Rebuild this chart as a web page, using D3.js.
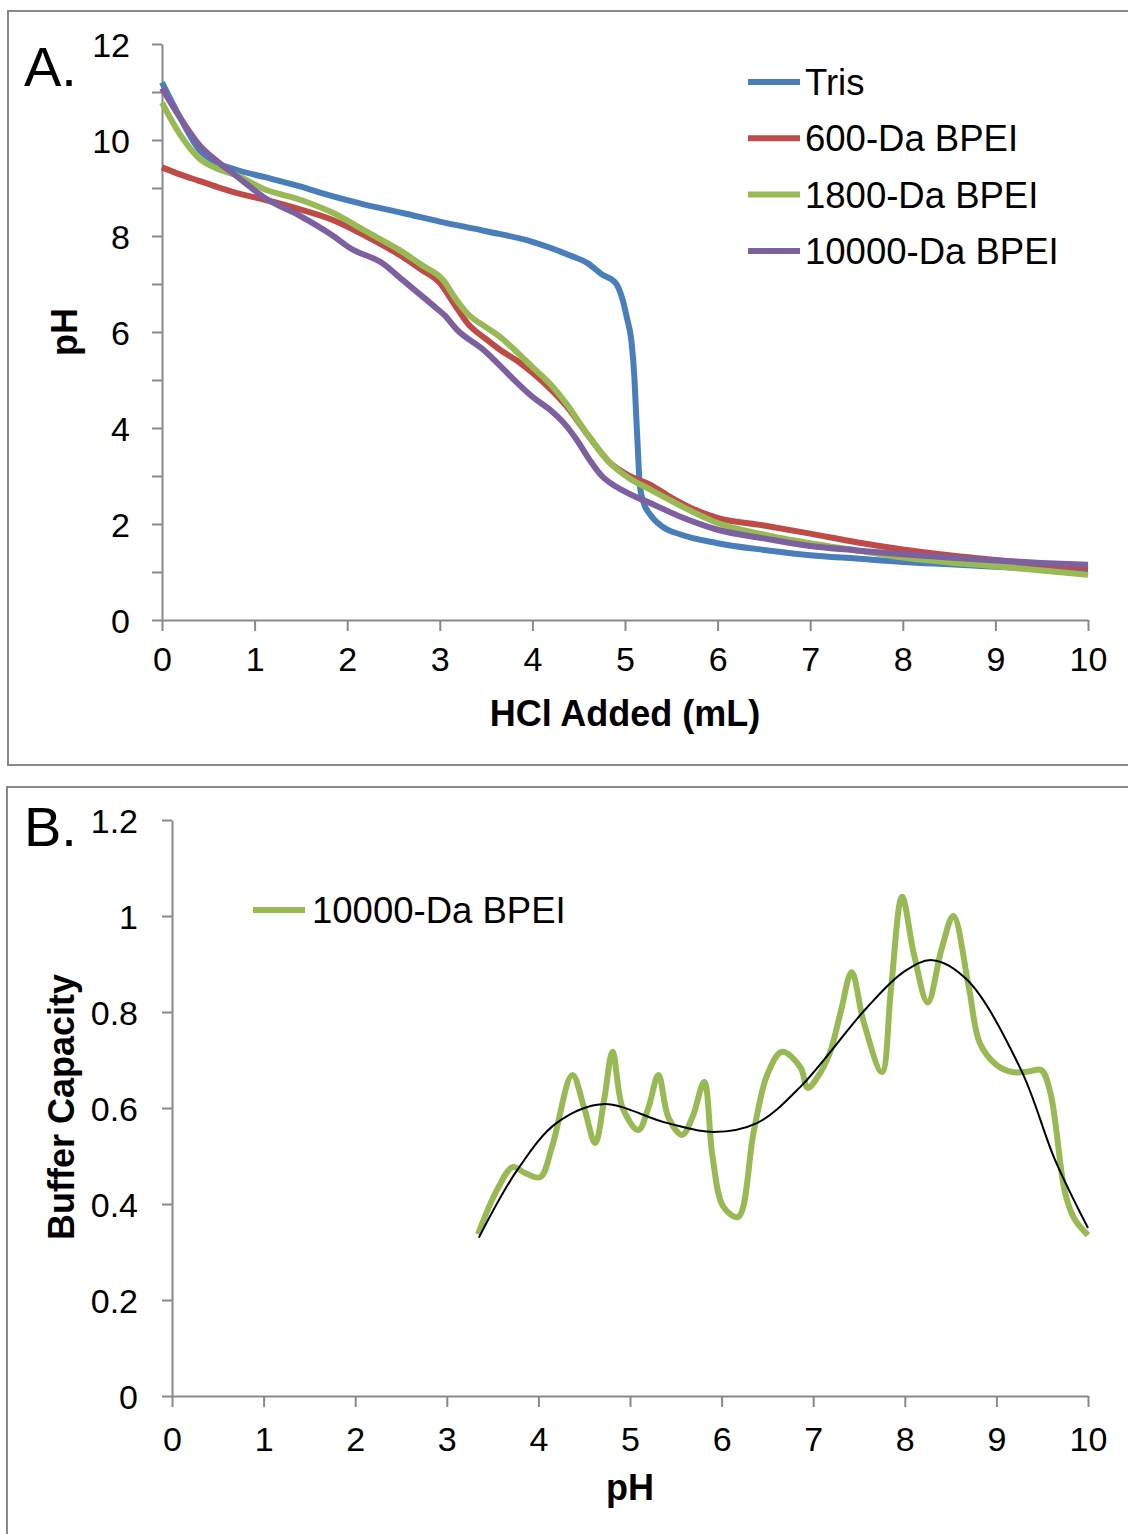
<!DOCTYPE html>
<html>
<head>
<meta charset="utf-8">
<script src="https://cdn.jsdelivr.net/npm/d3@7/dist/d3.min.js"></script>
<style>
body { margin: 0; background: #fff; overflow: hidden; }
text { font-family: "Liberation Sans", Arial, sans-serif; fill: #000; }
.tick text { font-size: 34px; }
.tick line, .domain { stroke: #898989; stroke-width: 2px; }
.axis-title { font-size: 36px; font-weight: bold; }
.legend text { font-size: 36.5px; }
.panel-label { font-size: 56px; }
</style>
</head>
<body>
<svg width="1128" height="1534"></svg>
<script>
// panel A: pH vs HCl added (mL)
const tris = [[0,11.2],[0.2,10.45],[0.4,9.8],[0.6,9.52],[0.8,9.38],[1.1,9.23],[1.5,9.03],[1.8,8.85],[2.2,8.65],[2.6,8.48],[3,8.3],[3.5,8.1],[4,7.88],[4.2,7.75],[4.4,7.6],[4.6,7.43],[4.75,7.2],[4.9,7.02],[4.97,6.7],[5.02,6.3],[5.07,5.8],[5.1,5.1],[5.12,4.3],[5.14,3.5],[5.16,2.8],[5.2,2.45],[5.27,2.2],[5.4,1.95],[5.6,1.78],[6,1.6],[6.5,1.46],[7,1.35],[7.5,1.28],[8,1.21],[8.5,1.16],[9,1.11],[9.5,1.06],[10,1.02]];
const bpei600 = [[0,9.43],[0.2,9.28],[0.4,9.15],[0.6,9.02],[0.8,8.9],[1.1,8.76],[1.5,8.55],[1.85,8.33],[2.2,8.0],[2.57,7.6],[2.8,7.3],[3.0,7.02],[3.15,6.6],[3.3,6.18],[3.5,5.85],[3.65,5.63],[3.85,5.38],[4.0,5.15],[4.2,4.8],[4.37,4.45],[4.6,3.85],[4.84,3.27],[5.05,3.0],[5.27,2.82],[5.5,2.55],[5.75,2.3],[6,2.13],[6.5,1.97],[7,1.8],[7.5,1.62],[8,1.47],[8.5,1.35],[9,1.25],[9.5,1.16],[10,1.08]];
const bpei1800 = [[0,10.78],[0.2,10.1],[0.4,9.62],[0.6,9.4],[0.8,9.27],[1.1,8.98],[1.5,8.75],[1.85,8.48],[2.2,8.1],[2.57,7.7],[2.8,7.4],[3.05,7.05],[3.15,6.75],[3.3,6.38],[3.5,6.1],[3.65,5.9],[3.85,5.55],[4.0,5.27],[4.2,4.9],[4.37,4.5],[4.6,3.85],[4.84,3.27],[5.05,2.95],[5.27,2.72],[5.6,2.38],[6,2.02],[6.5,1.78],[7,1.6],[7.5,1.45],[8,1.3],[8.5,1.2],[9,1.12],[9.5,1.03],[10,0.94]];
const bpei10000 = [[0,11.08],[0.2,10.45],[0.41,9.88],[0.6,9.55],[0.77,9.3],[1.13,8.77],[1.49,8.42],[1.85,8.0],[2.03,7.75],[2.39,7.42],[2.6,7.08],[2.93,6.55],[3.05,6.35],[3.19,6.04],[3.47,5.63],[3.65,5.3],[3.83,4.95],[4.0,4.65],[4.19,4.38],[4.35,4.08],[4.48,3.75],[4.62,3.33],[4.75,3.0],[4.91,2.77],[5.1,2.58],[5.27,2.44],[5.6,2.15],[6,1.88],[6.5,1.7],[7,1.54],[7.5,1.45],[8,1.37],[8.5,1.3],[9,1.24],[9.5,1.19],[10,1.15]];
const seriesNamesA = ['Tris', '600-Da BPEI', '1800-Da BPEI', '10000-Da BPEI'];
const seriesColorsA = ['#4a7ebb', '#be4b48', '#98b954', '#7d60a0'];

// panel B: buffer capacity vs pH
const capacity = [[3.34,0.337],[3.55,0.43],[3.72,0.477],[3.85,0.465],[4.02,0.456],[4.15,0.52],[4.37,0.669],[4.5,0.6],[4.62,0.527],[4.72,0.62],[4.81,0.717],[4.92,0.6],[5.09,0.554],[5.2,0.6],[5.31,0.669],[5.42,0.58],[5.57,0.544],[5.68,0.58],[5.81,0.654],[5.9,0.5],[6.02,0.394],[6.18,0.373],[6.35,0.55],[6.5,0.67],[6.66,0.717],[6.86,0.685],[6.94,0.642],[7.05,0.665],[7.18,0.714],[7.3,0.8],[7.42,0.883],[7.55,0.78],[7.75,0.675],[7.85,0.85],[7.97,1.04],[8.1,0.92],[8.25,0.82],[8.4,0.93],[8.53,1.0],[8.7,0.85],[8.82,0.735],[9.0,0.69],[9.17,0.675],[9.35,0.676],[9.49,0.679],[9.59,0.631],[9.75,0.423],[9.85,0.37],[10.0,0.335]];
const trend = [[3.35,0.33],[3.77,0.471],[4.2,0.569],[4.7,0.608],[5.4,0.569],[5.91,0.55],[6.39,0.569],[6.86,0.644],[7.59,0.81],[8.0,0.885],[8.3,0.908],[8.68,0.867],[9.27,0.679],[9.64,0.492],[10.0,0.35]];

const xTicks = d3.range(0, 11);
const yTicksA = d3.range(0, 13);
const yTicksB = [0, 0.2, 0.4, 0.6, 0.8, 1, 1.2];

const svg = d3.select('svg');

// panel frames
svg.append('rect').attr('x', 8).attr('y', 11).attr('width', 1140).attr('height', 754)
  .attr('fill', 'none').attr('stroke', '#898989').attr('stroke-width', 2);
svg.append('rect').attr('x', 7).attr('y', 787).attr('width', 1140).attr('height', 780)
  .attr('fill', 'none').attr('stroke', '#898989').attr('stroke-width', 2);

// ---------- panel A ----------
const xA = d3.scaleLinear().domain([0, 10]).range([162, 1088]);
const yA = d3.scaleLinear().domain([0, 12]).range([620, 44]);

svg.append('g').attr('transform', 'translate(0,620)')
  .call(d3.axisBottom(xA).tickValues(xTicks).tickSize(11).tickPadding(16).tickSizeOuter(0));
const gyA = svg.append('g').attr('transform', 'translate(162,0)')
  .call(d3.axisLeft(yA).tickValues(yTicksA).tickSize(10).tickPadding(22).tickSizeOuter(0)
    .tickFormat(d => d % 2 === 0 ? d : ''));
gyA.selectAll('.tick text').attr('dy', '0.36em');

const lineA = d3.line().x(d => xA(d[0])).y(d => yA(d[1])).curve(d3.curveMonotoneX);
[tris, bpei600, bpei1800, bpei10000].forEach((s, i) => {
  svg.append('path').datum(s).attr('d', lineA)
    .attr('fill', 'none').attr('stroke', seriesColorsA[i])
    .attr('stroke-width', 6).attr('stroke-linejoin', 'round');
});

svg.append('text').attr('class', 'axis-title').attr('x', 625).attr('y', 726)
  .attr('text-anchor', 'middle').text('HCl Added (mL)');
svg.append('text').attr('class', 'axis-title')
  .attr('transform', 'translate(77,332) rotate(-90)')
  .attr('text-anchor', 'middle').text('pH');
svg.append('text').attr('class', 'panel-label').attr('x', 24).attr('y', 86).text('A.');

const legA = svg.selectAll('.legA').data(seriesNamesA).enter().append('g')
  .attr('class', 'legend')
  .attr('transform', (d, i) => `translate(748,${82 + i * 56.3})`);
legA.append('line').attr('x1', 0).attr('x2', 52)
  .attr('stroke', (d, i) => seriesColorsA[i]).attr('stroke-width', 6);
legA.append('text').attr('x', 57).attr('dy', '0.36em').text(d => d);

// ---------- panel B ----------
const xB = d3.scaleLinear().domain([0, 10]).range([172, 1088]);
const yB = d3.scaleLinear().domain([0, 1.2]).range([1396, 820]);

svg.append('g').attr('transform', 'translate(0,1396)')
  .call(d3.axisBottom(xB).tickValues(xTicks).tickSize(11).tickPadding(20).tickSizeOuter(0));
const gyB = svg.append('g').attr('transform', 'translate(172,0)')
  .call(d3.axisLeft(yB).tickValues(yTicksB).tickSize(10).tickPadding(24).tickSizeOuter(0)
    .tickFormat(d => d3.format('~g')(d)));
gyB.selectAll('.tick text').attr('dy', '0.36em');

const lineB = d3.line().x(d => xB(d[0])).y(d => yB(d[1]));
svg.append('path').datum(capacity).attr('d', lineB.curve(d3.curveCatmullRom.alpha(0.5)))
  .attr('fill', 'none').attr('stroke', '#98b954').attr('stroke-width', 6)
  .attr('stroke-linejoin', 'round');
svg.append('path').datum(trend).attr('d', lineB.curve(d3.curveCatmullRom.alpha(0.5)))
  .attr('fill', 'none').attr('stroke', '#000').attr('stroke-width', 2);

svg.append('text').attr('class', 'axis-title').attr('x', 630).attr('y', 1500)
  .attr('text-anchor', 'middle').text('pH');
svg.append('text').attr('class', 'axis-title')
  .attr('transform', 'translate(74,1107) rotate(-90)')
  .attr('text-anchor', 'middle').text('Buffer Capacity');
svg.append('text').attr('class', 'panel-label').attr('x', 24).attr('y', 846).text('B.');

const legB = svg.append('g').attr('class', 'legend').attr('transform', 'translate(253,910)');
legB.append('line').attr('x1', 0).attr('x2', 52).attr('stroke', '#98b954').attr('stroke-width', 6);
legB.append('text').attr('x', 59).attr('dy', '0.36em').text('10000-Da BPEI');
</script>
</body>
</html>
